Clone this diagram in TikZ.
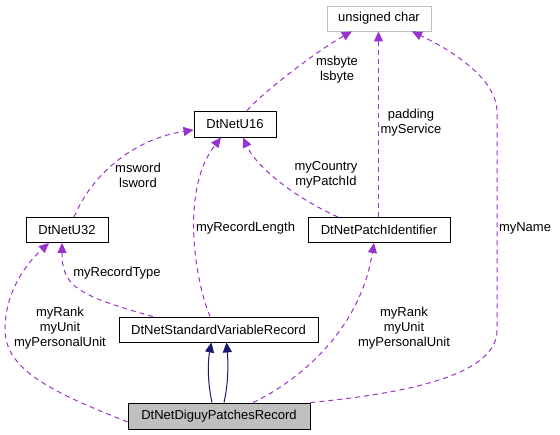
\documentclass[tikz,border=0pt]{standalone}
\usepackage{fontspec}
\setmainfont{Liberation Sans}
\usetikzlibrary{arrows.meta}
\definecolor{dep}{HTML}{9A32CD}
\definecolor{inh}{HTML}{191970}
\definecolor{graybox}{HTML}{BFBFBF}
\begin{document}
\begin{tikzpicture}[x=1pt,y=-1pt,
  every node/.style={font=\fontsize{13}{15}\selectfont},
  cls/.style={draw=black,line width=0.9pt,inner sep=0pt,minimum height=25pt},
  depline/.style={draw=dep,line width=1pt,dash pattern=on 5pt off 4pt,
     -{Triangle[length=10pt,width=9pt,fill=dep,sep=0pt]}},
  inhline/.style={draw=inh,line width=1pt,
     -{Triangle[length=10pt,width=9pt,fill=inh]}},
  lbl/.style={inner sep=0pt,align=center}]
\useasboundingbox (0,0) rectangle (560,435);
\fill[white] (0,0) rectangle (560,435);

\node[cls,draw=graybox,minimum width=104pt] (uc) at (379,18.5) {unsigned char};
\node[cls,minimum width=82pt,minimum height=26pt] (u16) at (235,124) {DtNetU16};
\node[cls,minimum width=82pt] (u32) at (67,230) {DtNetU32};
\node[cls,minimum width=142pt] (pid) at (379,230) {DtNetPatchIdentifier};
\node[cls,minimum width=199pt] (svr) at (218.5,329.5) {DtNetStandardVariableRecord};
\node[cls,fill=graybox,minimum width=182pt,minimum height=26pt] (dgy) at (219,416) {DtNetDiguyPatchesRecord};

% dependencies
\draw[depline] ([xshift=12pt]u16.north) .. controls (262,93) and (318,50) .. ([xshift=-27pt]uc.south);
\draw[depline,line width=1.3pt] ([xshift=-0.5pt]pid.north) -- ([xshift=-0.5pt]uc.south);
\draw[depline] (dgy.north east) .. controls (420,392) and (497,372) .. (497,330)
   -- (497,112) .. controls (497,80) and (455,52) .. ([xshift=33pt]uc.south);
\draw[depline] ([xshift=7pt]u32.north) .. controls (95,168) and (140,138) .. ([yshift=-6pt]u16.west);
\draw[depline] ([xshift=-8.5pt]svr.north) .. controls (195,280) and (180,190) .. ([xshift=-14pt]u16.south);
\draw[depline] ([xshift=-41pt]pid.north) .. controls (300,200) and (258,170) .. ([xshift=8pt]u16.south);
\draw[depline] ([xshift=-65.5pt]svr.north) .. controls (75,295) and (62,285) .. ([xshift=-5pt]u32.south);
\draw[depline] ([yshift=-6pt]dgy.west) .. controls (60,395) and (5,372) .. (5,330)
   .. controls (5,290) and (28,262) .. ([xshift=-18pt]u32.south);
\draw[depline] ([xshift=34pt]dgy.north) .. controls (300,380) and (360,330) .. ([xshift=-5pt]pid.south);

% inheritance
\draw[inhline] ([xshift=-7pt]dgy.north) .. controls (207,380) and (208,360) .. ([xshift=-7pt]svr.south);
\draw[inhline] ([xshift=5pt]dgy.north) .. controls (229,380) and (228,360) .. ([xshift=8pt]svr.south);

% labels
\node[lbl] (l1) at (337,70) {msbyte\\lsbyte};
\node[lbl] (l2) at (411,123) {padding\\myService};
\node[lbl] (l3) at (525,228) {myName};
\node[lbl] (l4) at (138,175) {msword\\lsword};
\node[lbl] (l5) at (245.5,228) {myRecordLength};
\node[lbl] (l6) at (326,175) {myCountry\\myPatchId};
\node[lbl] (l7) at (117,273) {myRecordType};
\node[lbl] (l8) at (60,328) {myRank\\myUnit\\myPersonalUnit};
\node[lbl] (l9) at (404,328) {myRank\\myUnit\\myPersonalUnit};
\end{tikzpicture}
\end{document}
